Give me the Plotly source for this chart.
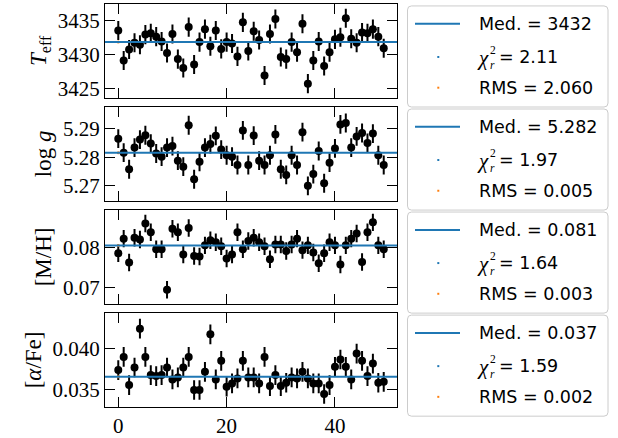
import plotly.graph_objects as go

W, H = 618, 438

# ---------------- data ----------------
idx = list(range(50))

teff = [3433.5, 3429.1, 3430.7, 3431.7, 3431.4, 3432.9, 3433.1, 3432.6, 3431.9, 3430.2,
        3433.0, 3429.3, 3428.0, 3434.0, 3428.5, 3431.8, 3433.7, 3431.2, 3433.5, 3430.8,
        3431.8, 3431.6, 3429.7, 3434.7, 3430.5, 3433.4, 3432.1, 3426.9, 3433.0, 3435.2,
        3429.6, 3429.3, 3431.8, 3430.3, 3434.5, 3425.7, 3429.1, 3431.9, 3428.3, 3430.3,
        3432.2, 3432.5, 3435.3, 3432.3, 3431.7, 3433.2, 3433.1, 3433.7, 3432.6, 3430.9]

logg = [5.2865, 5.2816, 5.2758, 5.2834, 5.2862, 5.2877, 5.2848, 5.2813, 5.2802, 5.2834,
        5.2839, 5.2788, 5.2767, 5.2912, 5.2723, 5.2784, 5.2834, 5.2846, 5.2875, 5.2827,
        5.2807, 5.2802, 5.2773, 5.2894, 5.2773, 5.2876, 5.2788, 5.2773, 5.2807, 5.2880,
        5.2758, 5.2738, 5.2807, 5.2773, 5.2888, 5.2700, 5.2741, 5.2822, 5.2709, 5.2781,
        5.2831, 5.2915, 5.2920, 5.2834, 5.2873, 5.2885, 5.2850, 5.2883, 5.2807, 5.2773]

mh = [0.0786, 0.0823, 0.0763, 0.0825, 0.0821, 0.0861, 0.0839, 0.0796, 0.0796, 0.0694,
      0.0848, 0.0839, 0.0783, 0.0850, 0.0779, 0.0778, 0.0806, 0.0819, 0.0814, 0.0804,
      0.0773, 0.0783, 0.0839, 0.0796, 0.0817, 0.0825, 0.0814, 0.0804, 0.0771, 0.0808,
      0.0808, 0.0792, 0.0808, 0.0823, 0.0794, 0.0806, 0.0788, 0.0761, 0.0786, 0.0814,
      0.0806, 0.0758, 0.0806, 0.0823, 0.0836, 0.0764, 0.0839, 0.0864, 0.0806, 0.0796]

afe = [0.03736, 0.03897, 0.03554, 0.03768, 0.04240, 0.03897, 0.03675, 0.03663, 0.03675, 0.03768,
       0.03623, 0.03647, 0.03768, 0.03897, 0.03494, 0.03494, 0.03715, 0.04172, 0.03623, 0.03849,
       0.03534, 0.03574, 0.03635, 0.03849, 0.03647, 0.03647, 0.03574, 0.03897, 0.03542, 0.03675,
       0.03542, 0.03582, 0.03647, 0.03635, 0.03715, 0.03635, 0.03574, 0.03574, 0.03445, 0.03554,
       0.03776, 0.03865, 0.03776, 0.03623, 0.03937, 0.03849, 0.03663, 0.03816, 0.03582, 0.03594]

errors = [1.4, 0.0033, 0.0022, 0.0012]
medians = [3431.83, 5.2816, 0.08058, 0.03655]

y_titles = ["<i>T</i><sub>eff</sub>", "log <i>g</i>", "[M/H]", "[<i>α</i>/Fe]"]
y_tickvals = [[3425, 3430, 3435], [5.27, 5.28, 5.29], [0.07, 0.08], [0.035, 0.040]]
y_ticktext = [["3425", "3430", "3435"], ["5.27", "5.28", "5.29"], ["0.07", "0.08"], ["0.035", "0.040"]]
x_tickvals = [0, 20, 40]
x_ticktext = ["0", "20", "40"]

med_text = ["3432", "5.282", "0.081", "0.037"]
chi2_text = ["2.11", "1.97", "1.64", "1.59"]
rms_text = ["2.060", "0.005", "0.003", "0.002"]

# ---------------- styling / layout ----------------
series = [teff, logg, mh, afe]
y_ranges = [[3423.65, 3437.4], [5.2648, 5.2976], [0.0659, 0.0895], [0.0329, 0.0443]]
panel_px = [(4, 98.5), (108, 202.5), (212, 306.5), (316, 410.5)]
x_px = (105, 397)
BLUE = "#1f77b4"
ORANGE = "#ff7f0e"
SERIF = "Liberation Serif"
SANS = "DejaVu Sans"


def px(xp):
    return xp / W


def py(yp):
    return 1 - yp / H


fig = go.Figure()
layout = dict(
    width=W, height=H, margin=dict(l=0, r=0, t=0, b=0),
    paper_bgcolor="white", plot_bgcolor="white", showlegend=False,
)
shapes = []
annotations = []

for k in range(4):
    n = "" if k == 0 else str(k + 1)
    xa, ya = "x" + n, "y" + n
    fig.add_trace(go.Scatter(
        x=idx, y=series[k], mode="markers",
        marker=dict(color="black", size=8),
        error_y=dict(type="constant", value=errors[k], color="black", thickness=2, width=0),
        xaxis=xa, yaxis=ya, hoverinfo="skip",
    ))
    # tiny orange dot (rms proxy marker) at the first index
    fig.add_trace(go.Scatter(
        x=[idx[0]], y=[medians[k]], mode="markers",
        marker=dict(color=ORANGE, size=3), xaxis=xa, yaxis=ya, hoverinfo="skip",
    ))
    top, bot = panel_px[k]
    layout["xaxis" + n] = dict(
        domain=[px(x_px[0]), px(x_px[1])], range=[-2.45, 51.45], anchor=ya,
        tickvals=x_tickvals, ticktext=x_ticktext, showticklabels=(k == 3),
        ticks="inside", ticklen=10, tickwidth=1, tickcolor="black",
        showline=True, linecolor="black", linewidth=1, mirror="ticks",
        showgrid=False, zeroline=False,
        tickfont=dict(family=SERIF, size=21, color="black"),
    )
    layout["yaxis" + n] = dict(
        domain=[py(bot), py(top)], range=y_ranges[k], anchor=xa,
        tickvals=y_tickvals[k], ticktext=y_ticktext[k],
        ticks="inside", ticklen=10, tickwidth=1, tickcolor="black",
        showline=True, linecolor="black", linewidth=1, mirror="ticks",
        showgrid=False, zeroline=False,
        tickfont=dict(family=SERIF, size=21, color="black"),
        title=dict(text=y_titles[k], font=dict(family=SERIF, size=23, color="black"), standoff=4),
    )
    # median line
    shapes.append(dict(type="line", xref=xa + " domain", yref=ya, x0=0, x1=1,
                       y0=medians[k], y1=medians[k], line=dict(color=BLUE, width=2)))

    # legend box (rounded)
    bx0, bx1 = 407.5, 608.0
    by0 = 6 + 104 * k
    by1 = by0 + 102
    r = 4
    path = (f"M {px(bx0 + r)},{py(by0)} L {px(bx1 - r)},{py(by0)} "
            f"Q {px(bx1)},{py(by0)} {px(bx1)},{py(by0 + r)} "
            f"L {px(bx1)},{py(by1 - r)} Q {px(bx1)},{py(by1)} {px(bx1 - r)},{py(by1)} "
            f"L {px(bx0 + r)},{py(by1)} Q {px(bx0)},{py(by1)} {px(bx0)},{py(by1 - r)} "
            f"L {px(bx0)},{py(by0 + r)} Q {px(bx0)},{py(by0)} {px(bx0 + r)},{py(by0)} Z")
    shapes.append(dict(type="path", xref="paper", yref="paper", path=path,
                       line=dict(color="#cccccc", width=1), fillcolor="white"))
    r1, r2, r3 = by0 + 18, by0 + 51.5, by0 + 82.5
    # line sample
    shapes.append(dict(type="line", xref="paper", yref="paper",
                       x0=px(415), x1=px(460), y0=py(r1), y1=py(r1),
                       line=dict(color=BLUE, width=2)))
    # tiny dots
    for yy, col in ((r2, BLUE), (r3, ORANGE)):
        shapes.append(dict(type="rect", xref="paper", yref="paper",
                           x0=px(437.3), x1=px(439.3), y0=py(yy - 1), y1=py(yy + 1),
                           line=dict(width=0), fillcolor=col))
    tx = 476.5
    fs = 17.5
    annotations.append(dict(xref="paper", yref="paper", x=px(tx), y=py(r1), xanchor="left",
                            yanchor="middle", showarrow=False,
                            text=f"Med. = {med_text[k]}",
                            font=dict(family=SANS, size=fs, color="black")))
    annotations.append(dict(xref="paper", yref="paper", x=px(tx - 1), y=py(r2 + 1), xanchor="left",
                            yanchor="middle", showarrow=False, text="<i>χ</i>", borderpad=0,
                            font=dict(family=SERIF, size=21, color="black")))
    # stacked superscript 2 / subscript r
    annotations.append(dict(xref="paper", yref="paper", x=px(488.5), y=py(r2 + 0.5), xanchor="left",
                            yanchor="middle", showarrow=False, text="2<br><i>r</i>", borderpad=0,
                            align="left",
                            font=dict(family=SERIF, size=11.5, color="black")))
    annotations.append(dict(xref="paper", yref="paper", x=px(498), y=py(r2), xanchor="left",
                            yanchor="middle", showarrow=False, borderpad=0,
                            text=f"= {chi2_text[k]}",
                            font=dict(family=SANS, size=fs, color="black")))
    annotations.append(dict(xref="paper", yref="paper", x=px(tx), y=py(r3), xanchor="left",
                            yanchor="middle", showarrow=False,
                            text=f"RMS = {rms_text[k]}",
                            font=dict(family=SANS, size=fs, color="black")))

layout["shapes"] = shapes
layout["annotations"] = annotations
fig.update_layout(**layout)
fig.write_html("out.html")
